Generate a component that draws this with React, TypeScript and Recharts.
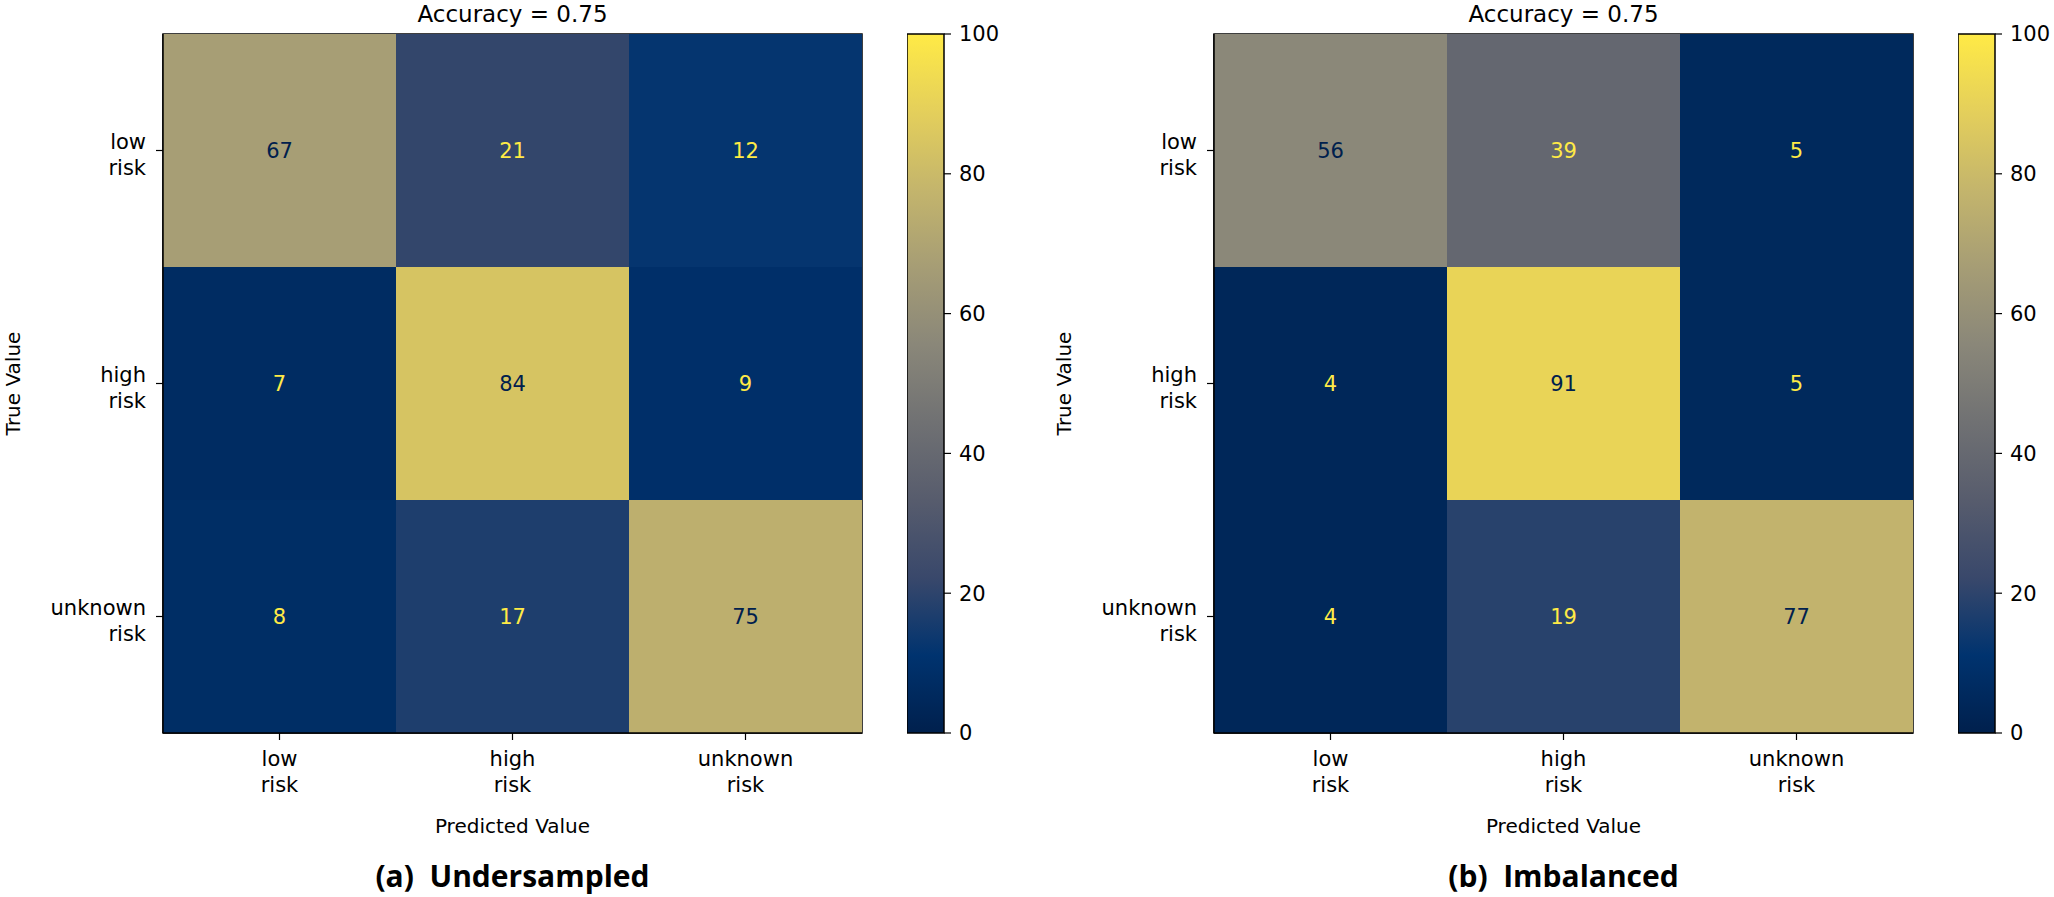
import { BarChart, Bar, XAxis, YAxis, Cell, LabelList, ReferenceArea } from "recharts";

// class names shared by both axes (true value = rows, predicted value = columns)
const classes = ["low risk", "high risk", "unknown risk"];

// (a) undersampled training set, per-row percentages
const underLow = [67, 21, 12];
const underHigh = [7, 84, 9];
const underUnknown = [8, 17, 75];

// (b) imbalanced training set
const imbLow = [56, 39, 5];
const imbHigh = [4, 91, 5];
const imbUnknown = [4, 19, 77];

const accuracyA = 0.75;
const accuracyB = 0.75;

const colorbarTicks = [0, 20, 40, 60, 80, 100];

// matplotlib "cividis", sampled at 10 evenly spaced points
const cividis = [
  "#00204D", "#00336F", "#39486B", "#575C6D", "#707173",
  "#8A8779", "#A69D75", "#C4B56C", "#E4CF5B", "#FFEA46",
];

const FONT = "DejaVu Sans";

function hexToRgb(h: string) {
  const n = parseInt(h.slice(1), 16);
  return [(n >> 16) & 255, (n >> 8) & 255, n & 255];
}

function cmap(t: number) {
  const p = Math.max(0, Math.min(1, t)) * (cividis.length - 1);
  const i = Math.min(Math.floor(p), cividis.length - 2);
  const f = p - i;
  const a = hexToRgb(cividis[i]);
  const b = hexToRgb(cividis[i + 1]);
  const c = a.map((v, k) => Math.round(v + (b[k] - v) * f));
  return `rgb(${c[0]},${c[1]},${c[2]})`;
}

const axisLine = { stroke: "#000", strokeWidth: 1.5 };

function XTick(props: any) {
  const { x, y, payload } = props;
  const lines = String(payload.value).split(" ");
  return (
    <g>
      {lines.map((l, k) => (
        <text key={k} x={x} y={y + 24 + k * 26} textAnchor="middle" fill="#000" fontSize={21} fontFamily={FONT}>
          {l}
        </text>
      ))}
    </g>
  );
}

function YTick(props: any) {
  const { x, y, payload } = props;
  const lines = classes[Math.floor(payload.value)].split(" ");
  return (
    <g>
      {lines.map((l, k) => (
        <text key={k} x={x} y={y - 2 + k * 26} textAnchor="end" fill="#000" fontSize={21} fontFamily={FONT}>
          {l}
        </text>
      ))}
    </g>
  );
}

type PanelProps = {
  id: string;
  left: number;
  rows: number[][];
  accuracy: number;
  caption: string;
};

function Panel({ id, left, rows, accuracy, caption }: PanelProps) {
  const data = classes.map((name, j) => {
    const d: Record<string, any> = { pred: name };
    rows.forEach((row, i) => {
      d[`r${i}`] = 1;
      d[`v${i}`] = row[j];
    });
    return d;
  });
  const all = rows.flat();
  const threshold = (Math.max(...all) + Math.min(...all)) / 2;
  const gid = `cb-${id}`;

  const valueLabel = (props: any) => {
    const { x, y, width, height, value } = props;
    return (
      <text
        x={x + width / 2}
        y={y + height / 2}
        textAnchor="middle"
        dominantBaseline="central"
        fill={value >= threshold ? cividis[0] : cividis[cividis.length - 1]}
        fontSize={21}
        fontFamily={FONT}
      >
        {value}
      </text>
    );
  };

  return (
    <div style={{ position: "absolute", left, top: 0 }}>
      <BarChart
        width={870}
        height={897}
        data={data}
        margin={{ top: 34, right: 8, bottom: 54, left: 0 }}
        barCategoryGap={0}
        barGap={0}
      >
        <XAxis
          dataKey="pred"
          height={110}
          tickSize={7}
          tickMargin={2}
          tickLine={{ stroke: "#000", strokeWidth: 1.2 }}
          axisLine={axisLine}
          tick={<XTick />}
          interval={0}
          label={{
            content: (p: any) => {
              const vb = p.viewBox;
              const cx = vb.x + vb.width / 2;
              return (
                <g>
                  <text x={cx} y={vb.y + 100} textAnchor="middle" fill="#000" fontSize={20} fontFamily={FONT}>
                    Predicted Value
                  </text>
                  <text
                    x={cx}
                    y={vb.y + 154}
                    textAnchor="middle"
                    fill="#000"
                    fontSize={30}
                    fontWeight={700}
                    fontFamily="Open Sans"
                  >
                    {caption}
                  </text>
                </g>
              );
            },
          }}
        />
        <YAxis
          type="number"
          domain={[0, classes.length]}
          ticks={classes.map((_, i) => i + 0.5)}
          reversed
          width={163}
          tickSize={7}
          tickMargin={10}
          tickLine={{ stroke: "#000", strokeWidth: 1.2 }}
          axisLine={axisLine}
          tick={<YTick />}
          interval={0}
          label={{
            content: (p: any) => {
              const vb = p.viewBox;
              const cy = vb.y + vb.height / 2;
              return (
                <text
                  x={13}
                  y={cy}
                  transform={`rotate(-90, 13, ${cy})`}
                  textAnchor="middle"
                  dominantBaseline="central"
                  fill="#000"
                  fontSize={20}
                  fontFamily={FONT}
                >
                  True Value
                </text>
              );
            },
          }}
        />
        {rows.map((row, i) => (
          <Bar key={i} dataKey={`r${i}`} stackId="cm" isAnimationActive={false}>
            {row.map((v, j) => (
              <Cell key={j} fill={cmap(v / 100)} />
            ))}
            <LabelList dataKey={`v${i}`} content={valueLabel} />
          </Bar>
        ))}
        {/* frame around the matrix, with the accuracy title above it */}
        <ReferenceArea
          x1={classes[0]}
          x2={classes[classes.length - 1]}
          y1={0}
          y2={classes.length}
          fill="none"
          stroke="#000"
          strokeWidth={1.5}
          fillOpacity={0}
          ifOverflow="visible"
          label={{
            content: (p: any) => {
              const vb = p.viewBox;
              return (
                <text x={vb.x + vb.width / 2} y={vb.y - 12} textAnchor="middle" fill="#000" fontSize={23} fontFamily={FONT}>
                  {`Accuracy = ${accuracy.toFixed(2)}`}
                </text>
              );
            },
          }}
        />
      </BarChart>

      {/* colour bar */}
      <div style={{ position: "absolute", left: 907, top: 19 }}>
        <BarChart
          width={97}
          height={729}
          data={[{ k: "cb", top: colorbarTicks[colorbarTicks.length - 1] }]}
          margin={{ top: 15, right: 0, bottom: 15, left: 0 }}
          barCategoryGap={0}
        >
          <defs>
            <linearGradient id={gid} x1="0" y1="1" x2="0" y2="0">
              {cividis.map((c, i) => (
                <stop key={i} offset={i / (cividis.length - 1)} stopColor={c} />
              ))}
            </linearGradient>
          </defs>
          <XAxis dataKey="k" hide />
          <YAxis
            orientation="right"
            width={60}
            domain={[colorbarTicks[0], colorbarTicks[colorbarTicks.length - 1]]}
            ticks={colorbarTicks}
            tickSize={7}
            tickMargin={8}
            axisLine={false}
            tickLine={{ stroke: "#000", strokeWidth: 1.2 }}
            tick={{ fill: "#000", fontSize: 21, fontFamily: FONT }}
            interval={0}
          />
          <Bar dataKey="top" fill={`url(#${gid})`} stroke="#000" strokeWidth={1.5} isAnimationActive={false} />
        </BarChart>
      </div>
    </div>
  );
}

export default function App() {
  return (
    <div style={{ position: "absolute", left: 0, top: 0, width: 2054, height: 897, background: "#fff" }}>
      <Panel
        id="a"
        left={0}
        rows={[underLow, underHigh, underUnknown]}
        accuracy={accuracyA}
        caption={"(a)\u00A0 Undersampled"}
      />
      <Panel
        id="b"
        left={1051}
        rows={[imbLow, imbHigh, imbUnknown]}
        accuracy={accuracyB}
        caption={"(b)\u00A0 Imbalanced"}
      />
    </div>
  );
}
